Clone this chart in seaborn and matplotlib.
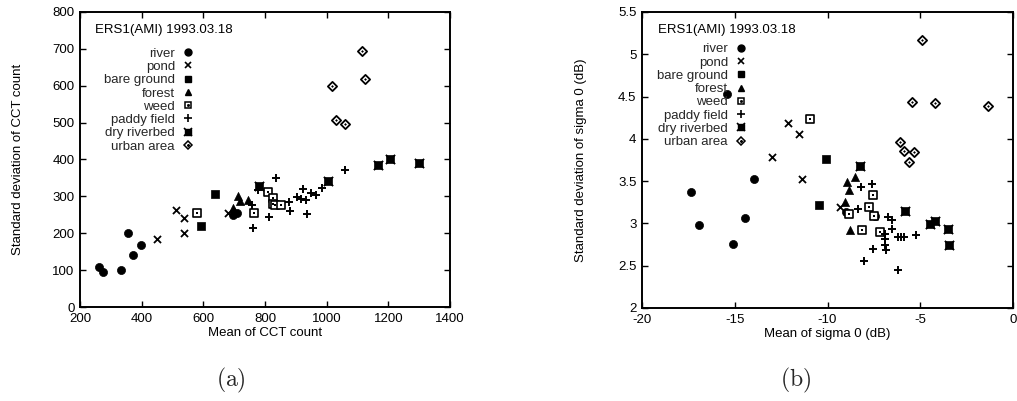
import matplotlib
matplotlib.use("Agg")
import matplotlib.pyplot as plt
import seaborn as sns
import pandas as pd
from matplotlib.legend_handler import HandlerTuple

categories = ["river", "pond", "bare ground", "forest", "weed",
              "paddy field", "dry riverbed", "urban area"]

# ---- panel (a): mean vs std of CCT count ----
a_river_x = [263, 276, 334, 356, 371, 399, 697, 710]
a_river_y = [108, 94, 101, 201, 142, 169, 250, 255]
a_pond_x = [449, 510, 536, 538, 681]
a_pond_y = [184, 262, 202, 241, 255]
a_bare_x = [594, 637]
a_bare_y = [219, 306]
a_forest_x = [697, 700, 712, 718, 745]
a_forest_y = [268, 260, 300, 287, 291]
a_weed_x = [580, 764, 809, 825, 825, 833, 852]
a_weed_y = [254, 254, 311, 295, 280, 276, 276]
a_paddy_x = [762, 758, 776, 812, 836, 878, 882, 903, 916, 924, 934, 937, 948, 964, 985, 1060]
a_paddy_y = [213, 276, 318, 245, 349, 284, 261, 298, 294, 321, 290, 253, 309, 304, 323, 372]
a_dry_x = [779, 1003, 1165, 1207, 1298]
a_dry_y = [327, 343, 385, 401, 390]
a_urban_x = [1018, 1030, 1059, 1113, 1124]
a_urban_y = [598, 506, 497, 695, 617]

# ---- panel (b): mean vs std of sigma 0 (dB) ----
b_river_x = [-17.34, -16.93, -15.4, -15.11, -14.47, -13.96, -9.02, -7.46]
b_river_y = [3.37, 2.98, 4.53, 2.76, 3.07, 3.53, 3.14, 3.09]
b_pond_x = [-13.0, -12.11, -11.54, -11.36, -9.31]
b_pond_y = [3.79, 4.19, 4.06, 3.52, 3.2]
b_bare_x = [-10.06, -10.48]
b_bare_y = [3.76, 3.22]
b_forest_x = [-8.95, -8.54, -8.84, -9.04, -8.79]
b_forest_y = [3.49, 3.55, 3.39, 3.25, 2.92]
b_weed_x = [-10.94, -8.84, -8.16, -7.56, -7.78, -7.19, -7.51]
b_weed_y = [4.24, 3.11, 2.92, 3.34, 3.2, 2.9, 3.09]
b_paddy_x = [-7.58, -8.21, -8.34, -6.74, -6.5, -6.5, -6.92, -6.92, -6.92, -6.83,
             -7.55, -8.05, -6.2, -6.02, -5.88, -5.25, -6.2]
b_paddy_y = [3.47, 3.43, 3.17, 3.08, 3.04, 2.93, 2.87, 2.82, 2.75, 2.69,
             2.70, 2.56, 2.84, 2.84, 2.84, 2.86, 2.45]
b_dry_x = [-8.25, -5.84, -4.49, -4.22, -3.49, -3.47]
b_dry_y = [3.68, 3.15, 2.99, 3.03, 2.94, 2.74]
b_urban_x = [-4.89, -5.43, -4.22, -1.35, -6.11, -5.9, -5.34, -5.61]
b_urban_y = [5.17, 4.44, 4.42, 4.39, 3.96, 3.86, 3.85, 3.73]

a_xticks = [200, 400, 600, 800, 1000, 1200, 1400]
a_yticks = [0, 100, 200, 300, 400, 500, 600, 700, 800]
b_xticks = [-20, -15, -10, -5, 0]
b_yticks = [2, 2.5, 3, 3.5, 4, 4.5, 5, 5.5]
b_yticklabels = ["2", "2.5", "3", "3.5", "4", "4.5", "5", "5.5"]

legend_title = "ERS1(AMI) 1993.03.18"


def frame(xs, ys):
    return pd.DataFrame({"x": xs, "y": ys})


a_data = {
    "river": frame(a_river_x, a_river_y), "pond": frame(a_pond_x, a_pond_y),
    "bare ground": frame(a_bare_x, a_bare_y), "forest": frame(a_forest_x, a_forest_y),
    "weed": frame(a_weed_x, a_weed_y), "paddy field": frame(a_paddy_x, a_paddy_y),
    "dry riverbed": frame(a_dry_x, a_dry_y), "urban area": frame(a_urban_x, a_urban_y),
}
b_data = {
    "river": frame(b_river_x, b_river_y), "pond": frame(b_pond_x, b_pond_y),
    "bare ground": frame(b_bare_x, b_bare_y), "forest": frame(b_forest_x, b_forest_y),
    "weed": frame(b_weed_x, b_weed_y), "paddy field": frame(b_paddy_x, b_paddy_y),
    "dry riverbed": frame(b_dry_x, b_dry_y), "urban area": frame(b_urban_x, b_urban_y),
}

sns.set_theme(style="ticks")
plt.rcParams["font.family"] = ["Liberation Sans", "DejaVu Sans"]
plt.rcParams["mathtext.fontset"] = "cm"

FS = 9.5
fig = plt.figure(figsize=(10.17, 4.01), dpi=100)
ax_a = fig.add_axes([80 / 1017, 94 / 401, 370 / 1017, 295 / 401])
ax_b = fig.add_axes([642 / 1017, 93 / 401, 371 / 1017, 296 / 401])


def draw(ax, data, anchor, title_xy):
    handles = []
    for cat in categories:
        d = data[cat]
        if cat == "river":
            sns.scatterplot(data=d, x="x", y="y", ax=ax, marker="o", s=34,
                            color="black", edgecolor="black", linewidth=0.5)
            h = plt.Line2D([], [], ls="", marker="o", ms=5, color="black")
        elif cat == "pond":
            sns.scatterplot(data=d, x="x", y="y", ax=ax, marker="x", s=26,
                            color="black", linewidth=1.3)
            h = plt.Line2D([], [], ls="", marker="x", ms=5, mew=1.2, color="black")
        elif cat == "bare ground":
            sns.scatterplot(data=d, x="x", y="y", ax=ax, marker="s", s=30,
                            color="black", edgecolor="black", linewidth=0.5)
            h = plt.Line2D([], [], ls="", marker="s", ms=5, color="black")
        elif cat == "forest":
            sns.scatterplot(data=d, x="x", y="y", ax=ax, marker="^", s=34,
                            color="black", edgecolor="black", linewidth=0.5)
            h = plt.Line2D([], [], ls="", marker="^", ms=5, color="black")
        elif cat == "weed":
            sns.scatterplot(data=d, x="x", y="y", ax=ax, marker="s", s=34,
                            facecolor="white", edgecolor="black", linewidth=1.2)
            sns.scatterplot(data=d, x="x", y="y", ax=ax, marker="s", s=2,
                            color="black", edgecolor="black", linewidth=0)
            h = (plt.Line2D([], [], ls="", marker="s", ms=5, mfc="white", mec="black", mew=1.1),
                 plt.Line2D([], [], ls="", marker="s", ms=1, color="black"))
        elif cat == "paddy field":
            sns.scatterplot(data=d, x="x", y="y", ax=ax, marker="+", s=40,
                            color="black", linewidth=1.4)
            h = plt.Line2D([], [], ls="", marker="+", ms=6, mew=1.2, color="black")
        elif cat == "dry riverbed":
            sns.scatterplot(data=d, x="x", y="y", ax=ax, marker="s", s=26,
                            color="black", edgecolor="black", linewidth=0.5)
            sns.scatterplot(data=d, x="x", y="y", ax=ax, marker="x", s=44,
                            color="black", linewidth=1.3)
            h = (plt.Line2D([], [], ls="", marker="s", ms=4.5, color="black"),
                 plt.Line2D([], [], ls="", marker="x", ms=5.5, mew=1.2, color="black"))
        else:
            sns.scatterplot(data=d, x="x", y="y", ax=ax, marker="D", s=22,
                            facecolor="white", edgecolor="black", linewidth=1.3)
            sns.scatterplot(data=d, x="x", y="y", ax=ax, marker="D", s=2,
                            color="black", edgecolor="black", linewidth=0)
            h = (plt.Line2D([], [], ls="", marker="D", ms=4, mfc="white", mec="black", mew=1.1),
                 plt.Line2D([], [], ls="", marker="D", ms=1, color="black"))
        handles.append(h)
    leg = ax.legend(handles, categories, loc="upper right",
                    bbox_to_anchor=anchor, frameon=False, markerfirst=False,
                    fontsize=FS, handlelength=1.0, handletextpad=0.5,
                    labelspacing=0.08, borderpad=0.0, borderaxespad=0.0,
                    handler_map={tuple: HandlerTuple(ndivide=1, pad=0)})
    ax.text(title_xy[0], title_xy[1], legend_title, transform=ax.transAxes,
            ha="left", va="center", fontsize=FS, color="black")
    return leg


def style(ax, xt, yt, xl, yl, xlabel, ylabel, ypad):
    ax.set_xlim(xt[0], xt[-1])
    ax.set_ylim(yt[0], yt[-1])
    ax.set_xticks(xt)
    ax.set_yticks(yt)
    ax.set_xticklabels(xl)
    ax.set_yticklabels(yl)
    ax.tick_params(direction="in", top=True, right=True, length=4, width=1.0,
                   labelsize=FS, colors="black", pad=4)
    for sp in ax.spines.values():
        sp.set_visible(True)
        sp.set_linewidth(1.4)
        sp.set_color("black")
    ax.set_xlabel(xlabel, fontsize=FS, labelpad=1.5, color="black")
    ax.set_ylabel(ylabel, fontsize=FS, labelpad=ypad, color="black")
    ax.set_facecolor("white")


draw(ax_a, a_data, (0.31, 0.88), (0.04, 0.939))
style(ax_a, a_xticks, a_yticks, [str(t) for t in a_xticks], [str(t) for t in a_yticks],
      "Mean of CCT count", "Standard deviation of CCT count", 20.5)
draw(ax_b, b_data, (0.285, 0.895), (0.043, 0.939))
style(ax_b, b_xticks, b_yticks, [str(t) for t in b_xticks], b_yticklabels,
      "Mean of sigma 0 (dB)", "Standard deviation of sigma 0 (dB)", 22.5)

fig.text(231 / 1017, 1 - 380 / 401, r"$\mathrm{(a)}$", ha="center", va="center", fontsize=17)
fig.text(796 / 1017, 1 - 380 / 401, r"$\mathrm{(b)}$", ha="center", va="center", fontsize=17)

fig.savefig("out.png", dpi=100, facecolor="white")
